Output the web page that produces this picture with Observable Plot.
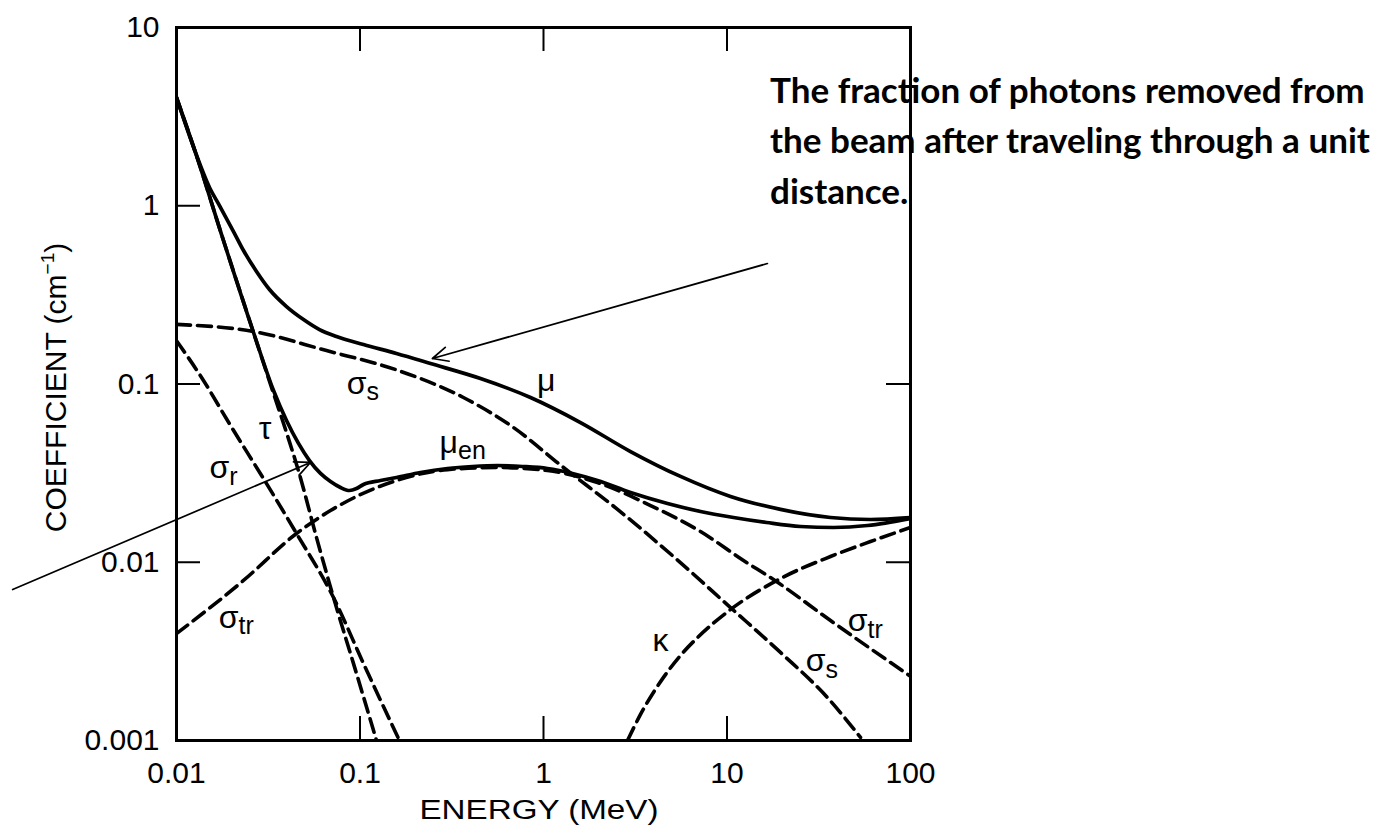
<!DOCTYPE html>
<html>
<head>
<meta charset="utf-8">
<script src="https://cdn.jsdelivr.net/npm/d3@7"></script>
<script src="https://cdn.jsdelivr.net/npm/@observablehq/plot@0.6"></script>
<style>
  html, body { margin: 0; padding: 0; background: #fff; }
  #chart { position: relative; width: 1377px; height: 836px; }
</style>
</head>
<body>
<div id="chart"></div>
<script>
// ---- tick values and labels ----
const xTicks = [0.01, 0.1, 1, 10, 100];
const xTickLabels = ["0.01", "0.1", "1", "10", "100"];
const yTicks = [0.001, 0.01, 0.1, 1, 10];
const yTickLabels = ["0.001", "0.01", "0.1", "1", "10"];
const xInnerTicks = [0.1, 1, 10];
const yLeftInnerTicks = [1, 0.1, 0.01];
const yRightInnerTicks = [0.1, 0.01];

// ---- series (energy in MeV, coefficient in cm^-1) ----
const muE = [0.01, 0.01269, 0.01513, 0.01715, 0.02045, 0.02318, 0.02729, 0.03212, 0.03977, 0.04922, 0.06015, 0.07443, 0.1045, 0.1581, 0.2422, 0.4536, 0.8494, 1.591, 2.980, 5.579, 10.45, 19.56, 36.65, 60.53, 100];
const muV = [4.05, 1.989, 1.266, 1.003, 0.717, 0.561, 0.428, 0.339, 0.272, 0.230, 0.202, 0.1847, 0.1666, 0.1483, 0.1303, 0.1073, 0.0840, 0.0608, 0.0418, 0.0303, 0.0234, 0.0198, 0.01783, 0.01737, 0.01783];

const muenE = [0.01, 0.01269, 0.01781, 0.02628, 0.03378, 0.03977, 0.04621, 0.05306, 0.06091, 0.06907, 0.0783, 0.08767, 0.0957, 0.1045, 0.1293, 0.1581, 0.2136, 0.2998, 0.4104, 0.5615, 0.7684, 1.051, 1.439, 1.969, 2.980, 4.740, 7.171, 10.85, 16.42, 25.15, 38.05, 58.30, 100];
const muenV = [4.05, 1.989, 0.6637, 0.1945, 0.0920, 0.0624, 0.0464, 0.0372, 0.0315, 0.02838, 0.02626, 0.02526, 0.02592, 0.02731, 0.02875, 0.02989, 0.03188, 0.03357, 0.03445, 0.03489, 0.03445, 0.03357, 0.0315, 0.02875, 0.02462, 0.02136, 0.01927, 0.01783, 0.01671, 0.01587, 0.01567, 0.01607, 0.0176];

const tauE = [0.01, 0.01269, 0.01781, 0.02628, 0.03378, 0.03977, 0.04681, 0.05793, 0.07443, 0.09218, 0.1230];
const tauV = [4.05, 1.989, 0.6637, 0.1945, 0.0885, 0.0534, 0.0311, 0.01377, 0.00557, 0.0027, 0.001];

const sigmaRE = [0.01, 0.0140, 0.0194, 0.0309, 0.0451, 0.0717, 0.1045, 0.164];
const sigmaRV = [0.175, 0.105, 0.060, 0.0277, 0.0145, 0.00634, 0.0027, 0.001];

const sigmaSE = [0.01, 0.0263, 0.0657, 0.158, 0.366, 0.686, 1.285, 2.531, 5.110, 10.45, 19.56, 35.29, 53.40];
const sigmaSV = [0.216, 0.197, 0.154, 0.120, 0.084, 0.057, 0.0340, 0.0198, 0.01077, 0.00557, 0.00312, 0.00174, 0.00104];

const sigmaTrE = [0.01, 0.02318, 0.04508, 0.06907, 0.1581, 0.2998, 0.5615, 1.051, 1.969, 3.830, 7.171, 12.30, 17.92, 36.65, 100];
const sigmaTrV = [0.00398, 0.0079, 0.0145, 0.0195, 0.02875, 0.0331, 0.0340, 0.0327, 0.0280, 0.0208, 0.01488, 0.01023, 0.0080, 0.00471, 0.00229];

const kappaE = [2.870, 3.378, 4.508, 5.579, 6.907, 10.45, 19.56, 36.65, 60.53, 100];
const kappaV = [0.001, 0.0014, 0.00226, 0.0030, 0.00378, 0.00543, 0.0081, 0.01077, 0.01307, 0.01567];

// ---- curve labels ----
const labelMain = ["σ", "μ", "μ", "τ", "σ", "σ", "κ", "σ", "σ"];
const labelSub  = ["s", "", "en", "", "r", "tr", "", "tr", "s"];
const labelE    = [0.1085, 1.163, 0.342, 0.0329, 0.0194, 0.0218, 4.80, 58.3, 34.4];
const labelV    = [0.1007, 0.104, 0.047, 0.0563, 0.034, 0.0049, 0.00364, 0.00471, 0.00281];

// ---- annotation arrows ----
const arrowX1 = [16.6, 0.00128];
const arrowY1 = [0.474, 0.00703];
const arrowX2 = [0.248, 0.0537];
const arrowY2 = [0.139, 0.0363];

// ---- texts ----
const xTitle = "ENERGY (MeV)";
const yTitle = "COEFFICIENT (cm";
const yTitleSup = "−1";
const noteLines = ["The fraction of photons removed from", "the beam after traveling through a unit", "distance."];

// ---- build tables ----
const series = [
  {name: "mu", dashed: false, E: muE, V: muV},
  {name: "muen", dashed: false, E: muenE, V: muenV},
  {name: "tau", dashed: true, E: tauE, V: tauV},
  {name: "sigmaR", dashed: true, E: sigmaRE, V: sigmaRV},
  {name: "sigmaS", dashed: true, E: sigmaSE, V: sigmaSV},
  {name: "sigmaTr", dashed: true, E: sigmaTrE, V: sigmaTrV},
  {name: "kappa", dashed: true, E: kappaE, V: kappaV}
];
const rows = series.flatMap(s => s.E.map((e, i) => ({name: s.name, dashed: s.dashed, E: e, V: s.V[i]})));
const labels = labelMain.map((t, i) => ({t, sub: labelSub[i], E: labelE[i], V: labelV[i]}));
const arrows = arrowX1.map((x1, i) => ({x1, y1: arrowY1[i], x2: arrowX2[i], y2: arrowY2[i]}));

const W = 1377, H = 836;
const M = {left: 176, right: 467, top: 27, bottom: 96};
const PW = W - M.left - M.right, PH = H - M.top - M.bottom;
const TICK = 24;

const chart = Plot.plot({
  width: W, height: H,
  marginLeft: M.left, marginRight: M.right, marginTop: M.top, marginBottom: M.bottom,
  style: {fontFamily: "'Liberation Sans', Arial, sans-serif", background: "#fff", color: "#000", overflow: "visible"},
  x: {type: "log", domain: [0.01, 100]},
  y: {type: "log", domain: [0.001, 10]},
  marks: [
    Plot.line(rows.filter(d => d.dashed), {x: "E", y: "V", z: "name", stroke: "#000", strokeWidth: 3.6, strokeDasharray: "14,7", curve: "monotone-x", clip: true}),
    Plot.line(rows.filter(d => !d.dashed), {x: "E", y: "V", z: "name", stroke: "#000", strokeWidth: 3.7, curve: "monotone-x", clip: true}),
    Plot.frame({stroke: "#000", strokeWidth: 3}),
    Plot.ruleY(yLeftInnerTicks, {stroke: "#000", strokeWidth: 2, insetRight: PW - TICK}),
    Plot.ruleY(yRightInnerTicks, {stroke: "#000", strokeWidth: 2, insetLeft: PW - TICK}),
    Plot.ruleX(xInnerTicks, {stroke: "#000", strokeWidth: 2, insetBottom: PH - TICK}),
    Plot.ruleX(xInnerTicks, {stroke: "#000", strokeWidth: 2, insetTop: PH - TICK}),
    Plot.axisX({ticks: xTicks, anchor: "bottom", tickSize: 0, tickPadding: 21, fontSize: 30, tickFormat: d => xTickLabels[xTicks.indexOf(d)], label: null}),
    Plot.axisY({ticks: yTicks, anchor: "left", tickSize: 0, tickPadding: 17, fontSize: 30, tickFormat: d => yTickLabels[yTicks.indexOf(d)], label: null}),
    Plot.arrow(arrows, {x1: "x1", y1: "y1", x2: "x2", y2: "y2", stroke: "#000", strokeWidth: 1.7, headLength: 15, headAngle: 50}),
    Plot.text(labels, {x: "E", y: "V", text: "t", textAnchor: "end", fontSize: 32, fill: "#000"}),
    Plot.text(labels.filter(d => d.sub), {x: "E", y: "V", text: "sub", textAnchor: "start", fontSize: 25, dy: 9, fill: "#000"})
  ]
});

document.getElementById("chart").appendChild(chart);

const svg = d3.select(chart);
// x axis title
svg.append("text")
  .attr("x", M.left + PW / 2 - 4)
  .attr("y", H - 17)
  .attr("text-anchor", "middle")
  .attr("font-size", 27)
  .attr("fill", "#000")
  .attr("textLength", 239)
  .attr("lengthAdjust", "spacingAndGlyphs")
  .text(xTitle);

// y axis title
const yt = svg.append("text")
  .attr("transform", `translate(66, ${M.top + PH / 2 + 4}) rotate(-90)`)
  .attr("text-anchor", "middle")
  .attr("font-size", 30)
  .attr("fill", "#000");
yt.append("tspan").text(yTitle);
yt.append("tspan").attr("font-size", 19).attr("dy", -12).text(yTitleSup);
yt.append("tspan").attr("dy", 12).text(")");

// annotation
const note = svg.append("g")
  .attr("font-family", "Lato, 'Open Sans', sans-serif")
  .attr("font-weight", 700)
  .attr("text-anchor", "start")
  .attr("fill", "#000");
const noteX = M.left + PW - 140;
const noteBase = [103, 153, 204];
const noteTexts = noteLines.map((t, i) => note.append("text").attr("x", noteX).attr("y", noteBase[i]).attr("font-size", 30).text(t));
const w2 = noteTexts[1].node().getComputedTextLength();
const fs = 30 * 600 / w2;
noteTexts.forEach(t => t.attr("font-size", fs.toFixed(2)));
</script>
</body>
</html>
